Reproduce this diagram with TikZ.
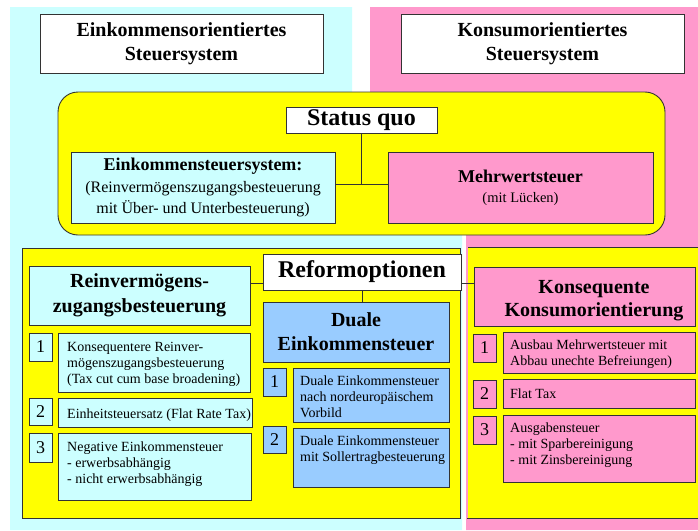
\documentclass[tikz,border=0pt]{standalone}
\usepackage{fontspec}
\setmainfont{Liberation Serif}
\definecolor{bgcyan}{HTML}{CCFFFF}
\definecolor{bgpink}{HTML}{FF99CC}
\definecolor{ylw}{HTML}{FFFF00}
\definecolor{blu}{HTML}{99CCFF}
\definecolor{edge}{HTML}{333333}
\begin{document}
\begin{tikzpicture}[x=1pt,y=-1pt,
  box/.style={draw=edge, line width=0.9pt, inner sep=0pt, align=center},
  span/.style n args={4}{at={({(#1+#3)/2},{(#2+#4)/2})}, minimum width={(#3)-(#1)}, minimum height={(#4)-(#2)}},
  hdr/.style={font=\fontsize{20}{24}\selectfont\bfseries},
  big/.style={font=\fontsize{24}{28}\selectfont\bfseries},
  num/.style={box, font=\fontsize{18}{20}\selectfont},
  itemtext/.style={anchor=north west, inner sep=0pt, align=left, font=\fontsize{14}{16}\selectfont},
  conn/.style={draw=edge, line width=0.9pt}]
\useasboundingbox (0,0) rectangle (698,530);
\fill[white] (0,0) rectangle (698,530);
% background panels
\fill[bgcyan] (10,7) -- (352,7) -- (352,200) -- (462,200) -- (462,530) -- (10,530) -- cycle;
\fill[bgpink] (370,7) -- (698,7) -- (698,530) -- (466,530) -- (466,200) -- (370,200) -- cycle;
% top headers
\node[box, fill=white, hdr, span={40}{14}{323}{73}] (eo) {Einkommensorientiertes\\Steuersystem};
\node[box, fill=white, hdr, span={401}{14}{684}{73}] (ko) {Konsumorientiertes\\Steuersystem};
% status quo panel
\node[box, fill=ylw, rounded corners=20pt, span={58}{92}{665}{235}] (sqp) {};
\node[box, fill=white, big, span={286}{107}{437}{133}] (sq) {Status quo};
\node[box, fill=bgcyan, span={71}{152}{335}{223}, font=\fontsize{16}{21.5}\selectfont] (es)
  {{\fontsize{18}{21}\selectfont\bfseries Einkommensteuersystem:}\\(Reinvermögenszugangsbesteuerung\\mit Über- und Unterbesteuerung)};
\node[box, fill=bgpink, span={388}{152}{653}{223}, font=\fontsize{14.5}{20}\selectfont] (mw)
  {{\fontsize{18}{21}\selectfont\bfseries Mehrwertsteuer}\\(mit Lücken)};
\coordinate (j1) at (361.5,184);
\draw[conn] (sq.south) -- (j1);
\draw[conn] (es.east |- j1) -- (mw.west |- j1);
% lower panels
\node[box, fill=ylw, span={22}{248}{460}{518}] (lp) {};
\fill[ylw] (467,247) rectangle (698,518);
\draw[conn] (467,247) -- (698,247);
\draw[conn] (467,518) -- (698,518);
\draw[bgpink, line width=1.5pt] (466.75,247) -- (466.75,518);
\node[box, fill=bgcyan, span={29}{266}{250}{325}, font=\fontsize{20}{25}\selectfont\bfseries] (rv) {Reinvermögens-\\zugangsbesteuerung};
\node[box, fill=bgpink, span={474}{267}{695}{326}] (kk) {};
\node[inner sep=0pt, align=center, font=\fontsize{20}{23}\selectfont\bfseries] (kkt) at (594,300.5) {Konsequente\\Konsumorientierung};
\coordinate (j2) at (0,283);
\draw[conn] (rv.east |- j2) -- (kk.west |- j2);
\node[box, fill=white, big, span={263}{254}{461}{290}] (ro) {Reformoptionen};
\node[box, fill=blu, span={263}{302}{449}{362}, font=\fontsize{20}{24}\selectfont\bfseries] (de) {Duale\\Einkommensteuer};
\draw[conn] (ro.south) -- (ro.south |- de.north);
% left items
\node[num, fill=bgcyan, span={29}{333}{52}{361}] (n1L) {1};
\node[num, fill=bgcyan, span={29}{398}{52}{425}] (n2L) {2};
\node[num, fill=bgcyan, span={29}{433}{52}{462}] (n3L) {3};
\node[box, fill=bgcyan, span={58}{333}{250}{392}] (i1L) {};
\node[box, fill=bgcyan, span={58}{398}{252}{427}] (i2L) {};
\node[box, fill=bgcyan, span={58}{433}{251}{500}] (i3L) {};
\node[itemtext] (t1L) at (67,340) {\strut Konsequentere Reinver-\\mögenszugangsbesteuerung\\(Tax cut cum base broadening)};
\node[itemtext] (t2L) at (67,406.8) {\strut Einheitsteuersatz (Flat Rate Tax)};
\node[itemtext] (t3L) at (67,439.8) {\strut Negative Einkommensteuer\\- erwerbsabhängig\\- nicht erwerbsabhängig};
% middle items
\node[num, fill=blu, span={263}{368}{286}{396}] (n1M) {1};
\node[num, fill=blu, span={263}{426}{286}{453}] (n2M) {2};
\node[box, fill=blu, span={293}{368}{449}{422}] (i1M) {};
\node[box, fill=blu, span={293}{428}{449}{487}] (i2M) {};
\node[itemtext] (t1M) at (300,373.8) {\strut Duale Einkommensteuer\\nach nordeuropäischem\\Vorbild};
\node[itemtext] (t2M) at (300,433.8) {\strut Duale Einkommensteuer\\mit Sollertragbesteuerung};
% right items
\node[num, fill=bgpink, span={473}{334}{496}{362}] (n1R) {1};
\node[num, fill=bgpink, span={473}{380}{496}{408}] (n2R) {2};
\node[num, fill=bgpink, span={473}{416}{496}{444}] (n3R) {3};
\node[box, fill=bgpink, span={503}{332}{695}{373}] (i1R) {};
\node[box, fill=bgpink, span={503}{379}{695}{408}] (i2R) {};
\node[box, fill=bgpink, span={503}{415}{695}{482}] (i3R) {};
\node[itemtext] (t1R) at (510,337.8) {\strut Ausbau Mehrwertsteuer mit\\Abbau unechte Befreiungen)};
\node[itemtext] (t2R) at (510,386.8) {\strut Flat Tax};
\node[itemtext] (t3R) at (510,420.8) {\strut Ausgabensteuer\\- mit Sparbereinigung\\- mit Zinsbereinigung};
\end{tikzpicture}
\end{document}
